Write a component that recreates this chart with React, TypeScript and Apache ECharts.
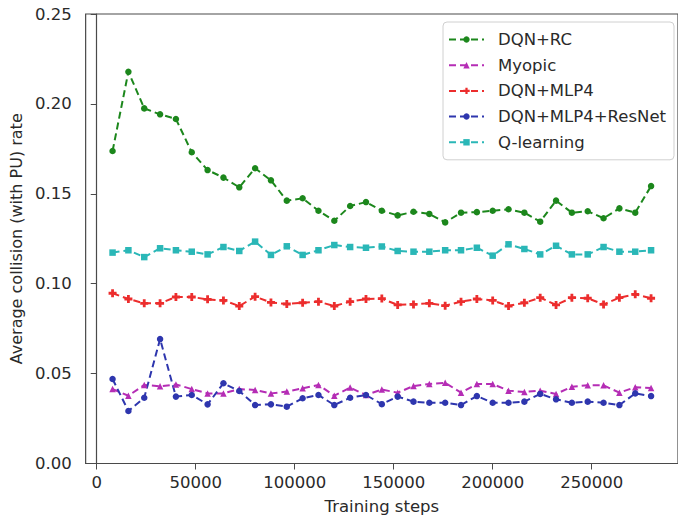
import React, { useEffect, useRef } from "react";
import * as echarts from "echarts";

const steps = [
  8000, 16000, 24000, 32000, 40000, 48000, 56000, 64000, 72000, 80000,
  88000, 96000, 104000, 112000, 120000, 128000, 136000, 144000, 152000, 160000,
  168000, 176000, 184000, 192000, 200000, 208000, 216000, 224000, 232000, 240000,
  248000, 256000, 264000, 272000, 280000,
];

const dqnRC = [
  0.1738, 0.2179, 0.1975, 0.1942, 0.1916, 0.1731, 0.1632, 0.159, 0.1536, 0.1642,
  0.1575, 0.1462, 0.1475, 0.1406, 0.135, 0.1432, 0.1454, 0.1406, 0.138, 0.14,
  0.1388, 0.1341, 0.1395, 0.1398, 0.1406, 0.1414, 0.1395, 0.1345, 0.1462, 0.1395,
  0.1403, 0.1364, 0.1419, 0.1395, 0.1543,
];

const myopic = [
  0.0414, 0.0377, 0.0437, 0.0429, 0.044, 0.0414, 0.039, 0.039, 0.0414, 0.0409,
  0.039, 0.04, 0.0418, 0.0437, 0.0377, 0.0422, 0.0381, 0.0411, 0.0394, 0.0431,
  0.0442, 0.0449, 0.0394, 0.0442, 0.0442, 0.0405, 0.0398, 0.0405, 0.0387, 0.0427,
  0.0435, 0.0435, 0.0394, 0.0424, 0.042,
];

const dqnMLP4 = [
  0.0947, 0.0915, 0.0891, 0.0891, 0.0926, 0.0926, 0.0913, 0.0907, 0.0876, 0.0928,
  0.0896, 0.0887, 0.0894, 0.09, 0.0876, 0.09, 0.0915, 0.0917, 0.0882, 0.0885,
  0.0891, 0.0878, 0.09, 0.0915, 0.0907, 0.0876, 0.0894, 0.0922, 0.0882, 0.0922,
  0.0919, 0.0885, 0.0922, 0.0941, 0.0919,
];

const dqnResNet = [
  0.047, 0.0292, 0.0366, 0.0692, 0.0372, 0.0381, 0.0329, 0.0446, 0.0403, 0.0325,
  0.0329, 0.0316, 0.0363, 0.0381, 0.0325, 0.0366, 0.0381, 0.033, 0.0372, 0.0344,
  0.0338, 0.0338, 0.0325, 0.0375, 0.0338, 0.0338, 0.0344, 0.0387, 0.0357, 0.0338,
  0.0344, 0.0338, 0.0325, 0.039, 0.0375,
];

const qLearning = [
  0.1173, 0.1186, 0.1148, 0.1197, 0.1186, 0.1178, 0.1163, 0.1204, 0.1182, 0.1234,
  0.116, 0.1208, 0.116, 0.1186, 0.1215, 0.1204, 0.12, 0.1207, 0.1182, 0.1178,
  0.1178, 0.1186, 0.1186, 0.12, 0.1156, 0.1219, 0.1193, 0.1163, 0.1211, 0.1163,
  0.1163, 0.1204, 0.1178, 0.1178, 0.1186,
];

const xTicks = [0, 50000, 100000, 150000, 200000, 250000];
const yTicks = ["0.00", "0.05", "0.10", "0.15", "0.20", "0.25"];

const seriesNames = ["DQN+RC", "Myopic", "DQN+MLP4", "DQN+MLP4+ResNet", "Q-learning"];
const seriesColors = ["#1c871c", "#b52db5", "#ec2d2d", "#2e36ae", "#2ab7b7"];
const plusPath = "path://M2.6,0H5.4V2.6H8V5.4H5.4V8H2.6V5.4H0V2.6H2.6Z";
const seriesSymbols = ["circle", "triangle", plusPath, "circle", "rect"];

const FONT = "DejaVu Sans";

export default function App() {
  const ref = useRef<HTMLDivElement>(null);
  useEffect(() => {
    if (!ref.current) return;
    const chart = echarts.init(ref.current, undefined, { renderer: "svg" });
    const allData = [dqnRC, myopic, dqnMLP4, dqnResNet, qLearning];
    chart.setOption({
      animation: false,
      backgroundColor: "#ffffff",
      grid: {
        left: 81,
        top: 14,
        right: -6,
        bottom: 56.5,
        show: true,
        borderColor: "#4a4a4a",
        borderWidth: 1.2,
        backgroundColor: "transparent",
      },
      legend: {
        orient: "vertical",
        left: 443,
        top: 22,
        data: seriesNames,
        itemWidth: 35,
        itemHeight: 8,
        itemGap: 8.7,
        padding: [9, 8, 9, 5],
        borderColor: "#d0d0d0",
        borderWidth: 1,
        borderRadius: 4,
        backgroundColor: "rgba(255,255,255,0.85)",
        textStyle: {
          fontFamily: FONT,
          fontSize: 16.5,
          lineHeight: 16,
          color: "#2a2a2a",
          padding: [0, 0, 0, 9],
        },
      },
      xAxis: {
        type: "value",
        min: -5600,
        max: 293600,
        name: "Training steps",
        nameLocation: "middle",
        nameGap: 34,
        nameTextStyle: { fontFamily: FONT, fontSize: 16.5, color: "#2a2a2a" },
        axisLine: { show: true, onZero: false, lineStyle: { color: "#4a4a4a", width: 1.2 } },
        axisTick: { show: true, length: 6, customValues: xTicks, lineStyle: { color: "#4a4a4a" } },
        axisLabel: {
          customValues: xTicks,
          margin: 10,
          fontFamily: FONT,
          fontSize: 16.5,
          color: "#2a2a2a",
          formatter: (v: number) => String(v),
        },
        splitLine: { show: false },
      },
      yAxis: {
        type: "value",
        min: 0,
        max: 0.25,
        interval: 0.05,
        name: "Average collision (with PU) rate",
        nameLocation: "middle",
        nameGap: 58,
        nameRotate: 90,
        nameTextStyle: { fontFamily: FONT, fontSize: 16, color: "#2a2a2a" },
        axisLine: { show: true, lineStyle: { color: "#4a4a4a", width: 1.2 } },
        axisTick: { show: true, length: 6, lineStyle: { color: "#4a4a4a" } },
        axisLabel: {
          margin: 14,
          fontFamily: FONT,
          fontSize: 16.5,
          color: "#2a2a2a",
          formatter: (v: number) => yTicks[Math.round(v / 0.05)] ?? v.toFixed(2),
        },
        splitLine: { show: false },
      },
      series: seriesNames.map((name, k) => ({
        name,
        type: "line",
        data: steps.map((s, i) => [s, allData[k][i]]),
        symbol: seriesSymbols[k],
        symbolSize: k === 2 ? 8 : 6.5,
        showSymbol: true,
        color: seriesColors[k],
        lineStyle: { color: seriesColors[k], width: 2, type: [7, 4] },
        itemStyle: { color: seriesColors[k] },
        emphasis: { disabled: true },
      })),
    });
    return () => chart.dispose();
  }, []);
  return (
    <div
      ref={ref}
      style={{ position: "fixed", left: 0, top: 0, width: 678, height: 520 }}
    />
  );
}
